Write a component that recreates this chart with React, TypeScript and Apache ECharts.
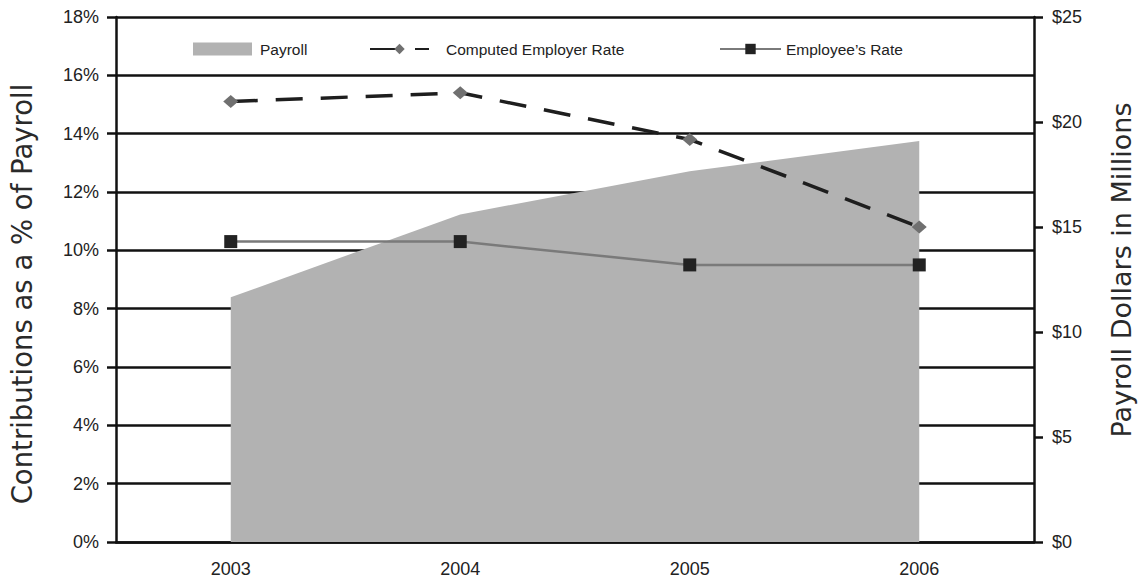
import React, { useEffect, useRef } from "react";
import * as echarts from "echarts";

const years = ["2003", "2004", "2005", "2006"];
const payrollMillions = [11.65, 15.6, 17.65, 19.1];
const employerRate = [15.1, 15.4, 13.8, 10.8];
const employeeRate = [10.3, 10.3, 9.5, 9.5];
const leftTitle = "Contributions as a % of Payroll";
const rightTitle = "Payroll Dollars in Millions";

const FONT = "'Liberation Sans', Arial, sans-serif";
const TITLE_FONT = "'DejaVu Sans', sans-serif";
const INK = "#222222";

export default function App() {
  const ref = useRef<HTMLDivElement>(null);
  useEffect(() => {
    if (!ref.current) return;
    const chart = echarts.init(ref.current, undefined, { renderer: "svg" });
    const axisLine = { show: true, lineStyle: { color: "#111", width: 2.5 } };
    const legendText = { fontFamily: FONT, fontSize: 15.5, color: INK };
    chart.setOption({
      animation: false,
      backgroundColor: "#ffffff",
      grid: { left: 116, right: 110, top: 17, bottom: 41, containLabel: false },
      legend: [
        {
          left: 188, top: 36, itemWidth: 59, itemHeight: 13, icon: "rect",
          selectedMode: false, data: ["Payroll"],
          textStyle: { ...legendText, padding: [0, 0, 0, 3] },
        },
        {
          left: 364, top: 36, itemWidth: 59, itemHeight: 13,
          selectedMode: false, data: ["Computed Employer Rate"],
          textStyle: { ...legendText, padding: [0, 0, 0, 12] },
        },
        {
          left: 714, top: 36, itemWidth: 61, itemHeight: 13,
          selectedMode: false, data: ["Employee\u2019s Rate"],
          textStyle: { ...legendText },
        },
      ],
      xAxis: {
        type: "category",
        data: years,
        boundaryGap: true,
        axisLine,
        axisTick: { show: false },
        axisLabel: { fontFamily: FONT, fontSize: 18, color: INK, margin: 18 },
        splitLine: { show: false },
      },
      yAxis: [
        {
          type: "value",
          min: 0, max: 18, interval: 2,
          position: "left",
          axisLine,
          axisTick: { show: true, inside: false, length: 9, lineStyle: { color: "#111", width: 2.5 } },
          axisLabel: { fontFamily: FONT, fontSize: 18, color: INK, margin: 17, formatter: "{value}%" },
          splitLine: { show: true, lineStyle: { color: "#111", width: 2.5 } },
        },
        {
          type: "value",
          min: 0, max: 25, interval: 5,
          position: "right",
          axisLine,
          axisTick: { show: true, inside: false, length: 9, lineStyle: { color: "#111", width: 2.5 } },
          axisLabel: { fontFamily: FONT, fontSize: 18, color: INK, margin: 18, formatter: "${value}" },
          splitLine: { show: false },
        },
      ],
      graphic: [
        {
          type: "text", x: 22, y: 294, rotation: Math.PI / 2,
          style: {
            text: leftTitle, fill: "#2a2a2a", font: `27.5px ${TITLE_FONT}`,
            textAlign: "center", textVerticalAlign: "middle", align: "center", verticalAlign: "middle",
          },
        },
        {
          type: "text", x: 1121, y: 270, rotation: Math.PI / 2,
          style: {
            text: rightTitle, fill: "#2a2a2a", font: `27px ${TITLE_FONT}`,
            textAlign: "center", textVerticalAlign: "middle", align: "center", verticalAlign: "middle",
          },
        },
      ],
      series: [
        {
          name: "Payroll",
          type: "line",
          yAxisIndex: 1,
          data: payrollMillions,
          showSymbol: false,
          symbol: "none",
          itemStyle: { color: "#b2b2b2" },
          lineStyle: { width: 0, color: "#b2b2b2" },
          areaStyle: { color: "#b2b2b2", opacity: 1 },
          z: 2,
        },
        {
          name: "Computed Employer Rate",
          type: "line",
          yAxisIndex: 0,
          data: employerRate,
          symbol: "diamond",
          symbolSize: [15, 13],
          itemStyle: { color: "#707070" },
          lineStyle: { color: "#1e1e1e", width: 3.5, type: [27, 18] },
          z: 3,
        },
        {
          name: "Employee\u2019s Rate",
          type: "line",
          yAxisIndex: 0,
          data: employeeRate,
          symbol: "rect",
          symbolSize: 13,
          itemStyle: { color: "#222222" },
          lineStyle: { color: "#7a7a7a", width: 2.5 },
          z: 4,
        },
      ],
    });
    return () => chart.dispose();
  }, []);
  return (
    <div
      ref={ref}
      style={{ position: "fixed", left: 0, top: 0, width: 1144, height: 583, background: "#fff" }}
    />
  );
}
